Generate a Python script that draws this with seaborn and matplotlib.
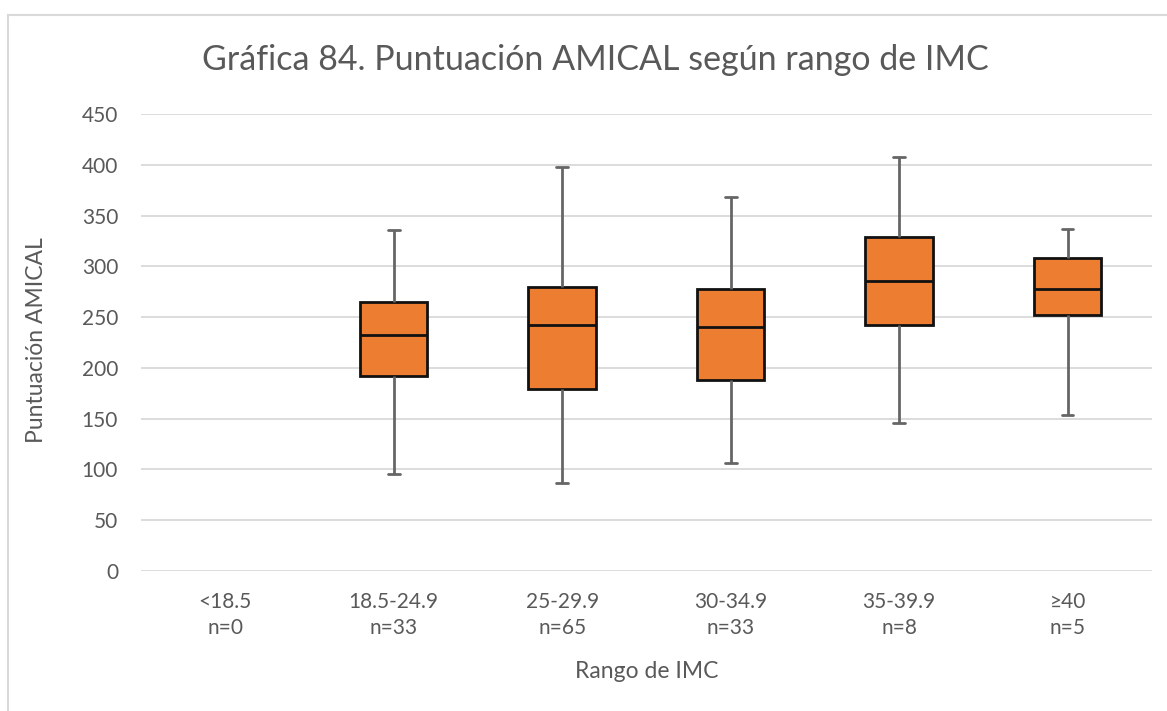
import numpy as np
import pandas as pd
import matplotlib
matplotlib.use("Agg")
import matplotlib.pyplot as plt
import seaborn as sns

# ---- Data ----
categories = ["<18.5\nn=0", "18.5-24.9\nn=33", "25-29.9\nn=65", "30-34.9\nn=33", "35-39.9\nn=8", "≥40\nn=5"]
mins    = [None, 96, 87, 106, 146, 154]
q1s     = [None, 192, 179, 188, 242, 252]
medians = [None, 232, 242, 240, 286, 278]
q3s     = [None, 265, 280, 278, 329, 308]
maxs    = [None, 336, 398, 368, 408, 337]
yticks  = [0, 50, 100, 150, 200, 250, 300, 350, 400, 450]

# Build five-number data: with 5 points, linear percentiles hit these values exactly
rows = []
for cat, a, b, c, d, e in zip(categories, mins, q1s, medians, q3s, maxs):
    if a is None:
        continue
    for v in (a, b, c, d, e):
        rows.append({"cat": cat, "val": v})
df = pd.DataFrame(rows)

sns.set_theme(style="white")
plt.rcParams["font.family"] = ["Lato", "DejaVu Sans"]

fig = plt.figure(figsize=(11.67, 7.11), dpi=100)
ax = fig.add_axes([0.1208, 0.1969, 0.8662, 0.6428])

sns.boxplot(data=df, x="cat", y="val", order=categories, whis=(0, 100),
            width=0.40, color="#ED7D31", saturation=1, ax=ax,
            boxprops=dict(edgecolor="#111111", linewidth=2.0, facecolor="#ED7D31"),
            medianprops=dict(color="#111111", linewidth=2.0),
            whiskerprops=dict(color="#666666", linewidth=2.0),
            capprops=dict(color="#666666", linewidth=2.0),
            capwidths=0.07, showfliers=False, zorder=3)

ax.set_ylim(0, 450)
ax.set_yticks(yticks)
ax.set_xlim(-0.5, len(categories) - 0.5)
ax.yaxis.grid(True, color="#D9D9D9", linewidth=1.3, zorder=0)
ax.set_axisbelow(True)
for s in ax.spines.values():
    s.set_visible(False)
ax.tick_params(axis="both", length=0, labelsize=15, labelcolor="#595959")
ax.tick_params(axis="y", pad=16.5)
ax.tick_params(axis="x", pad=15)
for lab in ax.get_xticklabels():
    lab.set_linespacing(1.4)

ax.set_xlabel("Rango de IMC", fontsize=16.5, color="#595959")
ax.set_ylabel("Puntuación AMICAL", fontsize=16.5, color="#595959")
ax.xaxis.set_label_coords(0.5, -0.197)
ax.yaxis.set_label_coords(-0.093, 0.505)
fig.text(0.51, 0.9156, "Gráfica 84. Puntuación AMICAL según rango de IMC",
         ha="center", va="center", fontsize=24.5, color="#595959")

# chart-area border (light gray)
fig.patches.append(plt.Rectangle((8 / 1167, -0.05), 1.2, 1 - 15 / 711 + 0.05,
                                 transform=fig.transFigure, fill=False,
                                 edgecolor="#D9D9D9", linewidth=1.5))

fig.savefig("out.png", dpi=100)
